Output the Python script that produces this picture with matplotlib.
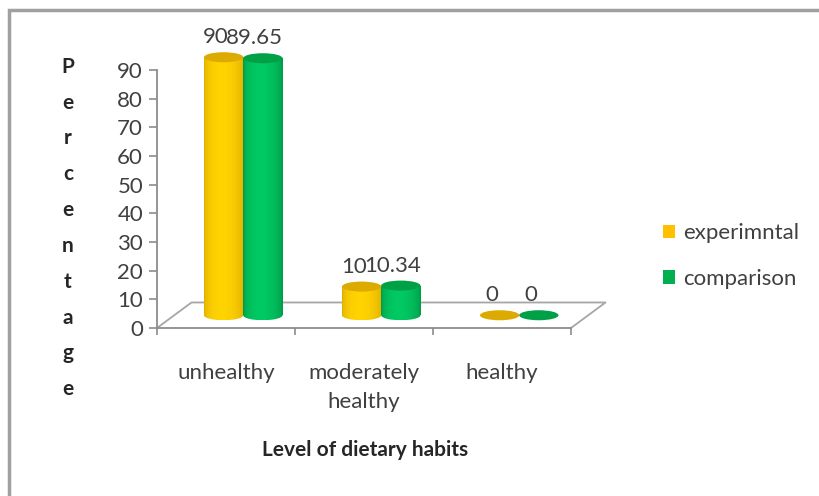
import numpy as np
import matplotlib
matplotlib.use("Agg")
import matplotlib.pyplot as plt
from matplotlib.patches import Rectangle, Ellipse, Patch
from matplotlib.lines import Line2D

plt.rcParams["font.family"] = ["Lato", "DejaVu Sans"]

categories = ["unhealthy", "moderately\nhealthy", "healthy"]
series_names = ["experimntal", "comparison"]
experimental = [90, 10, 0]
comparison = [89.65, 10.34, 0]
yticks = [0, 10, 20, 30, 40, 50, 60, 70, 80, 90]

W, H = 819, 496
fig = plt.figure(figsize=(W / 100, H / 100), dpi=100)
ax = fig.add_axes([157 / W, 1 - 328 / H, (571 - 157) / W, (328 - 70) / H])
ax.set_autoscale_on(False)
ax.set_xlim(-0.5, 2.5)
ax.set_ylim(0, 90)

# 3d look: floor depth in data units, bars sit half way back
DX, DY = 0.25, 8.9
BAR_W = 0.285
ELL_H = 3.5

text_col = "#404040"
axis_col = "#8c8c8c"

# floor outline
ax.add_line(Line2D([-0.5, -0.5 + DX, 2.5 + DX, 2.5], [0, DY, DY, 0],
                   color="#a6a6a6", lw=1.3, clip_on=False, zorder=1))

for s in ["top", "right"]:
    ax.spines[s].set_visible(False)
for s in ["left", "bottom"]:
    ax.spines[s].set_color(axis_col)
    ax.spines[s].set_linewidth(1.3)

ax.set_yticks(yticks)
ax.tick_params(axis="y", length=6, width=1.2, color=axis_col, pad=4,
               labelsize=16, labelcolor=text_col)
ax.set_xticks([-0.5, 0.5, 1.5, 2.5])
ax.set_xticklabels([])
ax.tick_params(axis="x", which="major", length=5, width=1.2, color=axis_col)
ax.set_xticks([0, 1, 2], minor=True)
ax.set_xticklabels(categories, minor=True, fontsize=16, color=text_col,
                   linespacing=1.6)
ax.tick_params(axis="x", which="minor", length=0, pad=25)


def shade(edge, mid, n=64):
    t = np.linspace(0, 1, n)
    prof = np.clip(np.sin(np.pi * t ** 0.85), 0, 1) ** 0.6
    edge, mid = np.array(edge), np.array(mid)
    rgb = edge[None, :] + (mid - edge)[None, :] * prof[:, None]
    return rgb[None, :, :]


def cylinder(xc, value, edge, mid, top):
    base = DY / 2
    x0, x1 = xc - BAR_W / 2, xc + BAR_W / 2
    if value > 0:
        grad = shade(edge, mid)
        clips = [Rectangle((x0, base), BAR_W, value, transform=ax.transData),
                 Ellipse((xc, base), BAR_W, ELL_H, transform=ax.transData)]
        for c in clips:
            im = ax.imshow(grad, extent=(x0, x1, base - ELL_H / 2, base + value),
                           aspect="auto", interpolation="bilinear", zorder=3)
            im.set_clip_box(None)
            im.set_clip_path(c)
    ax.add_patch(Ellipse((xc, base + value), BAR_W, ELL_H, facecolor=top,
                         edgecolor="none", zorder=4, clip_on=False))


styles = [
    ((0.87, 0.68, 0.0), (1.0, 0.83, 0.0), "#dcaa00"),
    ((0.0, 0.6, 0.28), (0.0, 0.79, 0.39), "#00a046"),
]
offsets = [-0.142, 0.142]

for j, vals in enumerate([experimental, comparison]):
    edge, mid, top = styles[j]
    for i, v in enumerate(vals):
        xc = i + offsets[j] + DX / 2
        cylinder(xc, v, edge, mid, top)
        ax.text(xc - 0.058, v + DY / 2 + 7, f"{v:g}", ha="center", va="center",
                fontsize=16, color=text_col, zorder=5)

fig.text(68 / W, 1 - 228 / H, "\n".join("Percentage"), ha="center", va="center",
         fontsize=15, fontweight="bold", color="#262626", linespacing=1.99)
fig.text(365 / W, 1 - 450 / H, "Level of dietary habits", ha="center",
         va="center", fontsize=15, fontweight="bold", color="#262626")

handles = [Patch(facecolor="#ffc000"), Patch(facecolor="#00b050")]
fig.legend(handles, series_names, loc="center left",
           bbox_to_anchor=(643 / W, 1 - 256 / H), frameon=False, fontsize=16,
           labelcolor=text_col, handlelength=0.55, handleheight=0.55,
           handletextpad=0.35, labelspacing=1.15)

# chart border
fig.patches.append(Rectangle((9 / W, -0.5), 1.5, 1.5 - 9.5 / H,
                             transform=fig.transFigure, fill=False,
                             edgecolor="#a0a0a0", lw=2.5))

fig.savefig("out.png", dpi=100)
